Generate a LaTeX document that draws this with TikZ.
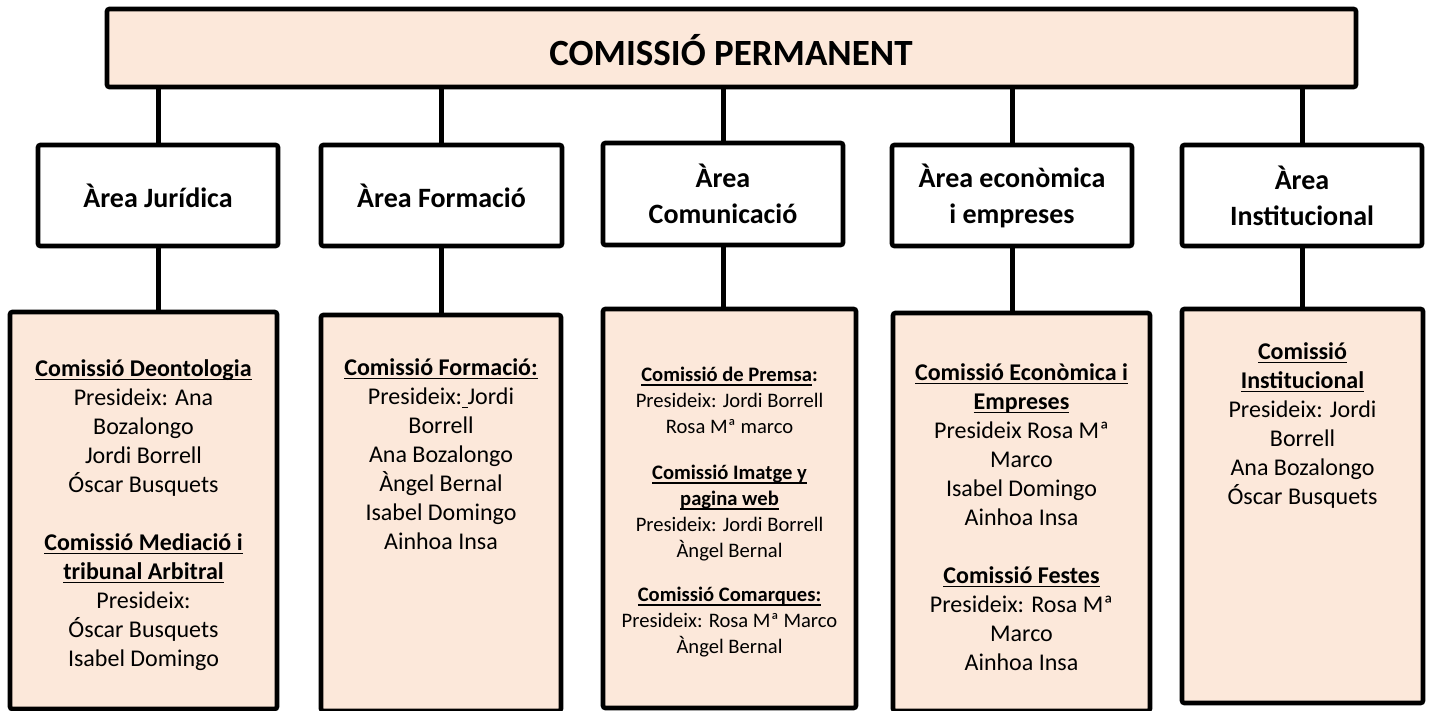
\documentclass[tikz,border=0pt]{standalone}
\usepackage{fontspec}
\setmainfont{Carlito}
\usetikzlibrary{fit}
\definecolor{peach}{HTML}{FCE8DA}
\newsavebox\ulbox
\newcommand\uln[1]{\sbox\ulbox{#1}\rlap{\rule[-2.1pt]{\wd\ulbox}{0.8pt}}\usebox\ulbox}
\begin{document}
\begin{tikzpicture}[x=0.5pt,y=-0.5pt,
  boxbase/.style={draw=black,line width=2.3pt,rounded corners=1.2pt,inner sep=0pt},
  topbox/.style={boxbase,fill=peach},
  areabox/.style={boxbase,fill=white},
  combox/.style={boxbase,fill=peach},
  areatext/.style={align=center,inner sep=0pt,font=\fontsize{14}{18}\selectfont\bfseries},
  comtext/.style={anchor=north,align=center,inner sep=0pt,font=\fontsize{12}{14.5}\selectfont},
  comsmall/.style={anchor=north,align=center,inner sep=0pt,font=\fontsize{10.3}{13}\selectfont},
  conn/.style={draw=black,line width=2.5pt}]
\useasboundingbox (0,0) rectangle (1433,711);
% top
\node[topbox,fit={(107,9) (1356,87)}] (top) {};
\node[inner sep=0pt,font=\fontsize{18.5}{22}\selectfont\bfseries] (toptext) at (731,50) {COMISSIÓ PERMANENT};
% areas
\node[areabox,fit={(38,145) (278,246)}] (a1) {};
\node[areabox,fit={(321,145) (562,246)}] (a2) {};
\node[areabox,fit={(603,143) (843,245)}] (a3) {};
\node[areabox,fit={(892,145) (1132,246)}] (a4) {};
\node[areabox,fit={(1182,145) (1422,246)}] (a5) {};
\node[areatext] (a1t) at (a1.center) {Àrea Jurídica};
\node[areatext] (a2t) at (a2.center) {Àrea Formació};
\node[areatext] (a3t) at (a3.center) {Àrea\\Comunicació};
\node[areatext] (a4t) at (a4.center) {Àrea econòmica\\i empreses};
\node[areatext] (a5t) at (a5.center) {Àrea\\Institucional};
% commissions
\node[combox,fit={(10,312) (277,709)}] (c1) {};
\node[combox,fit={(321,315) (561,711)}] (c2) {};
\node[combox,fit={(603,309) (856,708)}] (c3) {};
\node[combox,fit={(893,313) (1150,711)}] (c4) {};
\node[combox,fit={(1182,309) (1423,703)}] (c5) {};
% connectors
\draw[conn] (a1.north) -- (a1.north |- top.south);
\draw[conn] (a2.north) -- (a2.north |- top.south);
\draw[conn] (a3.north) -- (a3.north |- top.south);
\draw[conn] (a4.north) -- (a4.north |- top.south);
\draw[conn] (a5.north) -- (a5.north |- top.south);
\draw[conn] (a1.south) -- (a1.south |- c1.north);
\draw[conn] (a2.south) -- (a2.south |- c2.north);
\draw[conn] (a3.south) -- (a3.south |- c3.north);
\draw[conn] (a4.south) -- (a4.south |- c4.north);
\draw[conn] (a5.south) -- (a5.south |- c5.north);
% commission texts
\node[comtext] (t1) at ([yshift=-22.8pt]c1.north) {\strut\uln{\bfseries Comissió Deontologia}\\Presideix: Ana\\Bozalongo\\Jordi Borrell\\Óscar Busquets\\[14.5pt]\uln{\bfseries Comissió Mediació i}\\\uln{\bfseries tribunal Arbitral}\\Presideix:\\Óscar Busquets\\Isabel Domingo};
\node[comtext] (t2) at ([yshift=-20.8pt]c2.north) {\strut\uln{\bfseries Comissió Formació:}\\Presideix:\uln{\ }Jordi\\Borrell\\Ana Bozalongo\\Àngel Bernal\\Isabel Domingo\\Ainhoa Insa};
\node[comsmall] (t3) at ([yshift=-28pt]c3.north) {\strut\uln{\bfseries Comissió de Premsa}\textbf{:}\\Presideix: Jordi Borrell\\Rosa Mª marco\\[10pt]\uln{\bfseries Comissió Imatge y}\\\uln{\bfseries pagina web}\\Presideix: Jordi Borrell\\Àngel Bernal\\[9pt]\uln{\bfseries Comissió Comarques:}\\Presideix: Rosa Mª Marco\\Àngel Bernal};
\node[comtext] (t4) at ([yshift=-24.3pt]c4.north) {\strut\uln{\bfseries Comissió Econòmica i}\\\uln{\bfseries Empreses}\\Presideix Rosa Mª\\Marco\\Isabel Domingo\\Ainhoa Insa\\[14.5pt]\uln{\bfseries Comissió Festes}\\Presideix: Rosa Mª\\Marco\\Ainhoa Insa};
\node[comtext] (t5) at ([yshift=-15.8pt]c5.north) {\strut\uln{\bfseries Comissió}\\\uln{\bfseries Institucional}\\Presideix: Jordi\\Borrell\\Ana Bozalongo\\Óscar Busquets};
\end{tikzpicture}
\end{document}
